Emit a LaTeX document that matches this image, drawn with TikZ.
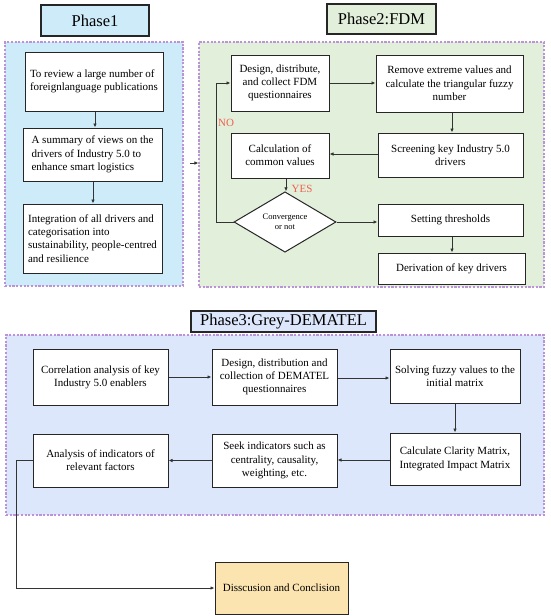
\documentclass[tikz,border=0pt]{standalone}
\usepackage{fontspec}
\setmainfont{Liberation Serif}
\usetikzlibrary{arrows.meta,shapes.geometric}
\definecolor{pone}{HTML}{CDEBF8}
\definecolor{ptwo}{HTML}{E2EFDA}
\definecolor{pthree}{HTML}{DDE7FB}
\definecolor{concl}{HTML}{FCE4B0}
\definecolor{dashc}{HTML}{BC92D8}
\definecolor{labred}{HTML}{F0604F}
\begin{document}
\begin{tikzpicture}[x=1pt,y=-1pt,
  panel/.style={draw=dashc, dash pattern=on 2.2pt off 1.5pt, line width=1.1pt, inner sep=0pt},
  box/.style={draw=black!85, line width=1pt, fill=white, font=\fontsize{11}{13.3}\selectfont, align=center, inner sep=2pt},
  lbox/.style={box, align=left},
  titlebox/.style={draw=black!85, line width=1.1pt, font=\fontsize{16.5}{18}\selectfont, inner sep=0pt},
  arr/.style={-{Latex[length=4pt,width=3.5pt]}, line width=0.8pt, draw=black!80},
  lab/.style={text=labred, font=\fontsize{11}{13}\selectfont, inner sep=0pt}]
\useasboundingbox (0,0) rectangle (550,616);

% panels
\node[panel, fill=pone, minimum width=178pt, minimum height=244pt] (p1) at (94,164) {};
\node[panel, fill=ptwo, minimum width=345pt, minimum height=245pt] (p2) at (371.5,164.5) {};
\node[panel, fill=pthree, minimum width=538pt, minimum height=180pt] (p3) at (275,425) {};

% titles
\node[titlebox, fill=pone, minimum width=108pt, minimum height=31pt] (t1) at (95,20.5) {Phase1};
\node[titlebox, fill=ptwo, minimum width=109pt, minimum height=30pt] (t2) at (381.5,19) {Phase2:FDM};
\node[titlebox, fill=pthree, minimum width=185pt, minimum height=21pt] (t3) at (283.5,321.5) {Phase3:Grey-DEMATEL};

% phase 1
\node[lbox, minimum width=138pt, minimum height=59pt] (a1) at (94,81.5) {To review a large number of\\foreignlanguage publications};
\node[lbox, minimum width=139pt, minimum height=53pt] (a2) at (92.5,154.5) {A summary of views on the\\drivers of Industry 5.0 to\\enhance smart logistics};
\node[lbox, minimum width=139pt, minimum height=69pt] (a3) at (92.5,238.5) {Integration of all drivers and\\categorisation into\\sustainability, people-centred\\and resilience};

% phase 2
\node[box, minimum width=98pt, minimum height=56pt] (b1) at (280,83) {Design, distribute,\\and collect FDM\\questionnaires};
\node[box, minimum width=147pt, minimum height=57pt] (b2) at (449.5,83.5) {Remove extreme values and\\calculate the triangular fuzzy\\number};
\node[box, minimum width=145pt, minimum height=44pt] (b3) at (450.5,155) {Screening key Industry 5.0\\drivers};
\node[box, minimum width=98pt, minimum height=45pt] (b4) at (280,155.5) {Calculation of\\common values};
\node[diamond, draw=black!85, line width=1pt, fill=white, minimum width=102pt, minimum height=42pt, inner sep=0pt, align=center, font=\fontsize{8.5}{10}\selectfont] (dia) at (285,222) {Convergence\\or not};
\node[box, minimum width=145pt, minimum height=32pt] (b5) at (450.5,220) {Setting thresholds};
\node[box, minimum width=147pt, minimum height=31pt] (b6) at (451.5,268.5) {Derivation of key drivers};

% phase 3
\node[box, minimum width=135pt, minimum height=56pt] (c1) at (100.5,377) {Correlation analysis of key\\Industry 5.0 enablers};
\node[box, minimum width=125pt, minimum height=56pt] (c2) at (274.5,377) {Design, distribution and\\collection of DEMATEL\\questionnaires};
\node[box, minimum width=130pt, minimum height=54pt] (c3) at (455,376) {Solving fuzzy values to the\\initial matrix};
\node[box, minimum width=130pt, minimum height=52pt] (c4) at (455,459) {Calculate Clarity Matrix,\\Integrated Impact Matrix};
\node[box, minimum width=125pt, minimum height=53pt] (c5) at (274.5,460.5) {Seek indicators such as\\centrality, causality,\\weighting, etc.};
\node[box, minimum width=135pt, minimum height=53pt] (c6) at (100.5,460.5) {Analysis of indicators of\\relevant factors};

\node[box, fill=concl, minimum width=133pt, minimum height=52pt] (con) at (281.5,588) {Disscusion and Conclision};

% connectors phase 1
\draw[arr] (a1.south -| 95,0) -- (a2.north -| 95,0);
\draw[arr] (a2.south -| 93,0) -- (a3.north -| 93,0);
\coordinate (p1out) at (190,163);
\draw[arr] (p1out) -- (p1out -| p2.west);

% phase 2
\draw[arr] (b1.east) -- (b2.west |- b1.east);
\draw[arr] (b2.south -| 452,0) -- (b3.north -| 452,0);
\draw[arr] (b3.west |- 0,154) -- (b4.east |- 0,154);
\draw[arr] (b4.south -| 286,0) -- (dia.north -| 286,0);
\draw[arr] (dia.east) -- (dia.east -| b5.west);
\draw[arr] (b5.south -| 452,0) -- (b6.north -| 452,0);
\draw[arr] (dia.west) -- ++(-17,0) |- (b1.west);
\node[lab] (no) at (226,123) {NO};
\node[lab] (yes) at (302,189) {YES};

% phase 3
\draw[arr] (c1.east) -- (c2.west |- c1.east);
\draw[arr] (c2.east |- 0,378) -- (c3.west |- 0,378);
\draw[arr] (c3.south) -- (c4.north);
\draw[arr] (c4.west |- 0,460) -- (c5.east |- 0,460);
\draw[arr] (c5.west) -- (c6.east);
\draw[arr] (c6.west) -- ++(-16,0) |- (con.west);
\end{tikzpicture}
\end{document}
